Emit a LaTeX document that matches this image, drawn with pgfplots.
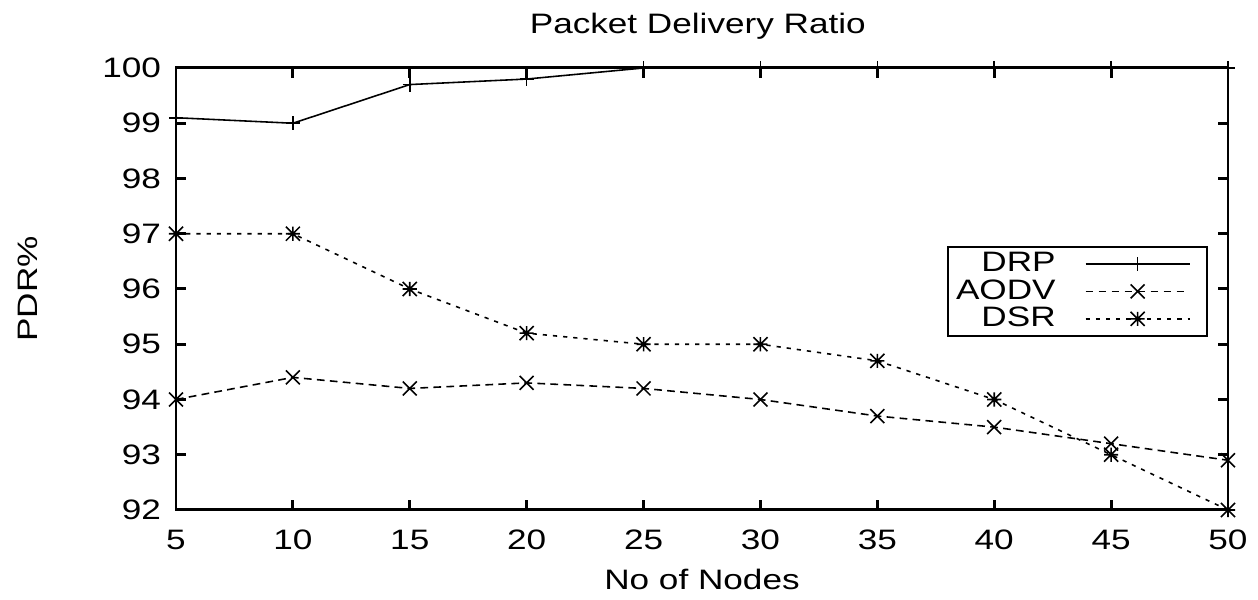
\documentclass[border=0pt]{standalone}
\usepackage{fontspec}
\setmainfont{Liberation Sans}[FakeStretch=1.25]
\usepackage{pgfplots}
\pgfplotsset{compat=1.18}
\pgfdeclareplotmark{gpstar}{%
  \pgfpathmoveto{\pgfqpoint{-\pgfplotmarksize}{0pt}}\pgfpathlineto{\pgfqpoint{\pgfplotmarksize}{0pt}}%
  \pgfpathmoveto{\pgfqpoint{0pt}{-\pgfplotmarksize}}\pgfpathlineto{\pgfqpoint{0pt}{\pgfplotmarksize}}%
  \pgfpathmoveto{\pgfqpoint{-\pgfplotmarksize}{-\pgfplotmarksize}}\pgfpathlineto{\pgfqpoint{\pgfplotmarksize}{\pgfplotmarksize}}%
  \pgfpathmoveto{\pgfqpoint{-\pgfplotmarksize}{\pgfplotmarksize}}\pgfpathlineto{\pgfqpoint{\pgfplotmarksize}{-\pgfplotmarksize}}%
  \pgfusepathqstroke}
\begin{document}
\fontsize{8}{10}\selectfont
\begin{tikzpicture}
\begin{axis}[
  name=ax,
  scale only axis,
  width=10.52cm, height=4.42cm,
  xmin=5, xmax=50, ymin=92, ymax=100,
  xtick={5,10,...,50},
  ytick={92,93,...,100},
  /pgf/number format/assume math mode=true,
  axis line style={line width=0.85pt},
  every tick/.style={line width=0.85pt, black},
  major tick length=0.1cm,
  xticklabel style={yshift=-0.1cm},
  yticklabel style={xshift=-0.05cm},
  every axis title shift=0pt,
  title={Packet Delivery Ratio},
  title style={at={(axis description cs:0.496,1.095)}, anchor=center},
  xlabel={No of Nodes},
  xlabel style={at={(axis description cs:0.5,-0.158)}, anchor=center},
  ylabel={PDR\%},
  ylabel style={at={(axis description cs:-0.1407,0.5)}, anchor=center},
  legend style={at={(0.981,0.597)}, anchor=north east, draw=black, line width=0.6pt,
    fill=white, legend cell align=right, inner xsep=1pt, inner ysep=1.5pt,
    nodes={inner ysep=0pt, inner xsep=1.2pt},
    row sep=1pt, font=\fontsize{8}{10}\selectfont},
  legend plot pos=right,
  legend image code/.code={\path (0cm,0cm) (1.42cm,0cm);
    \draw[mark repeat=2,mark phase=2] plot coordinates {(0.25cm,0cm) (0.77cm,0cm) (1.29cm,0cm)};},
]
\addplot[black, line width=0.45pt, mark=+, mark size=2pt, mark options={solid}]
  coordinates {(5,99.1) (10,99.0) (15,99.7) (20,99.8) (25,100) (30,100) (35,100) (40,100) (45,100) (50,100)};
\addlegendentry{DRP}
\addplot[black, line width=0.45pt, dash pattern=on 2.2pt off 1.5pt, mark=x, mark size=2.8pt, mark options={solid}]
  coordinates {(5,94.0) (10,94.4) (15,94.2) (20,94.3) (25,94.2) (30,94.0) (35,93.7) (40,93.5) (45,93.2) (50,92.9)};
\addlegendentry{AODV}
\addplot[black, line width=0.45pt, dash pattern=on 1.2pt off 1.7pt, mark=gpstar, mark size=2pt, mark options={solid}]
  coordinates {(5,97) (10,97) (15,96) (20,95.2) (25,95) (30,95) (35,94.7) (40,94) (45,93) (50,92)};
\addlegendentry{DSR}
\end{axis}
\path (ax.south west) ++(-1.76cm,-0.88cm);
\path (ax.north east) ++(0.30cm,0.68cm);
\end{tikzpicture}
\end{document}
